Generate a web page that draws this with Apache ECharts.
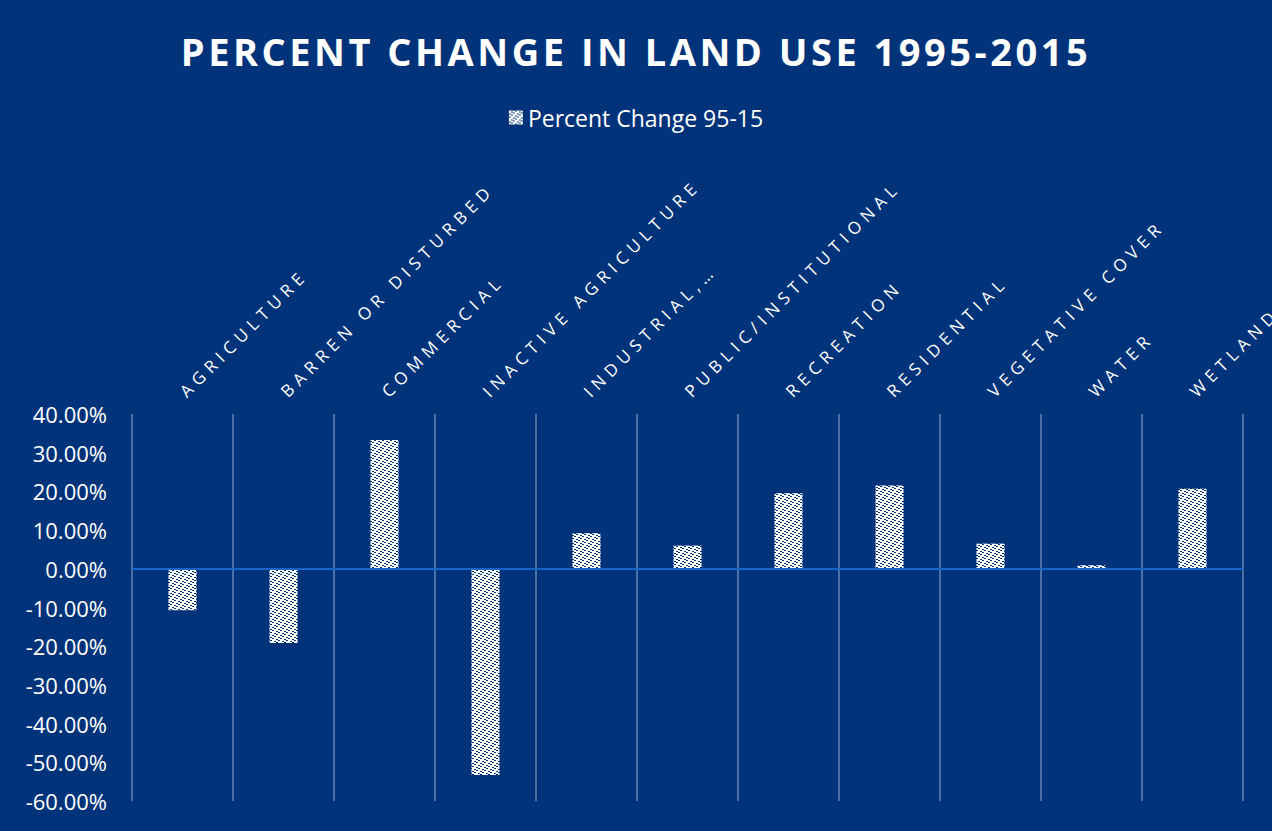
<!DOCTYPE html>
<html>
<head>
<meta charset="utf-8">
<script src="https://cdn.jsdelivr.net/npm/echarts@6/dist/echarts.min.js"></script>
<style>
  html, body { margin: 0; padding: 0; background: #00337a; }
  #chart { width: 1272px; height: 831px; }
  /* Excel-like letter spacing on the title and category labels */
  #chart text[style*="38px"] { letter-spacing: 3.5px; }
  #chart text[style*="17px"] { letter-spacing: 5.5px; }
</style>
</head>
<body>
<div id="chart"></div>
<script>
const categories = [
  "AGRICULTURE",
  "BARREN OR DISTURBED",
  "COMMERCIAL",
  "INACTIVE AGRICULTURE",
  "INDUSTRIAL,…",
  "PUBLIC/INSTITUTIONAL",
  "RECREATION",
  "RESIDENTIAL",
  "VEGETATIVE COVER",
  "WATER",
  "WETLAND",
];
const percentChange = [-10.7, -19.2, 33.3, -53.3, 9.2, 6.0, 19.5, 21.5, 6.5, 0.9, 20.7];
const yTicks = { min: -60, max: 40, step: 10 };

// white tile with dark-blue stepped dashes along upward diagonals
const makePattern = () => {
  const c = document.createElement("canvas");
  c.width = 8;
  c.height = 8;
  const ctx = c.getContext("2d");
  ctx.fillStyle = "#ffffff";
  ctx.fillRect(0, 0, 8, 8);
  ctx.fillStyle = "#00337a";
  const steps = [[6, 0], [2, 1], [4, 2], [0, 3], [2, 4], [6, 5], [0, 6], [4, 7]];
  steps.forEach(([x, y]) => ctx.fillRect(x, y, 2, 1));
  return c.toDataURL();
};

const option = {
  backgroundColor: "#00337a",
  animation: false,
  title: {
    text: "PERCENT CHANGE IN LAND USE 1995-2015",
    left: "center",
    top: 27,
    textStyle: {
      color: "#ffffff",
      fontFamily: "Open Sans",
      fontWeight: "bold",
      fontSize: 38,
    },
  },
  legend: {
    top: 101,
    left: "center",
    itemWidth: 14,
    itemHeight: 14,
    itemGap: 8,
    icon: "rect",
    textStyle: {
      color: "#ffffff",
      fontFamily: "Open Sans",
      fontSize: 23,
    },
  },
  grid: {
    left: 132,
    right: 29,
    top: 414,
    bottom: 30,
    containLabel: false,
  },
  xAxis: {
    type: "category",
    position: "top",
    data: categories,
    axisLine: { show: false, onZero: false },
    axisTick: { show: false },
    splitLine: {
      show: true,
      interval: 0,
      lineStyle: { color: "#4b6ea3", width: 2 },
    },
    axisLabel: {
      interval: 0,
      rotate: -45,
      margin: 20,
      color: "#ffffff",
      fontFamily: "Open Sans",
      fontSize: 17,
    },
  },
  yAxis: {
    type: "value",
    min: yTicks.min,
    max: yTicks.max,
    interval: yTicks.step,
    axisLine: { show: false },
    axisTick: { show: false },
    splitLine: { show: false },
    axisLabel: {
      margin: 25,
      color: "#ffffff",
      fontFamily: "Open Sans",
      fontSize: 22,
      formatter: (v) => v.toFixed(2) + "%",
    },
  },
  series: [
    {
      name: "Percent Change 95-15",
      type: "bar",
      barWidth: 28,
      data: percentChange,
      itemStyle: {
        color: { image: makePattern(), repeat: "repeat" },
      },
      markLine: {
        silent: true,
        symbol: "none",
        label: { show: false },
        lineStyle: { color: "#1a63c8", width: 2, type: "solid" },
        data: [{ yAxis: 0 }],
      },
    },
  ],
};

let myChart = echarts.init(document.getElementById("chart"), null, { renderer: "svg" });
myChart.setOption(option);
</script>
</body>
</html>
